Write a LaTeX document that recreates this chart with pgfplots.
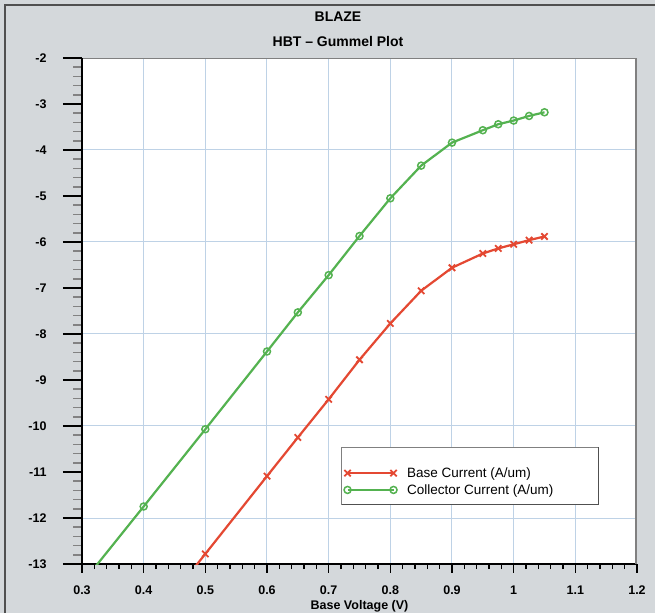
\documentclass[border=0pt]{standalone}
\usepackage{fontspec}
\setmainfont{Liberation Sans}
\usepackage{pgfplots}
\pgfplotsset{compat=1.18}

\definecolor{panel}{RGB}{212,216,219}
\definecolor{framegray}{RGB}{80,80,80}
\definecolor{gridblue}{RGB}{190,210,230}
\definecolor{basered}{RGB}{228,72,50}
\definecolor{collgreen}{RGB}{84,178,80}
\definecolor{minorgray}{RGB}{130,130,130}

\pgfplotsset{
  plotbox/.style={
    at={(82pt,49pt)}, anchor=south west,
    scale only axis, width=555pt, height=506pt,
    xmin=0.3, xmax=1.2, ymin=-13, ymax=-2,
  },
}

\begin{document}
\begin{tikzpicture}[x=1pt,y=1pt]
  % panel background and outer frame
  \fill[panel] (0,0) rectangle (655,613);
  \useasboundingbox (0,0) rectangle (655,613);
  \draw[framegray, line width=1.5pt] (5,0) -- (5,608) -- (655,608);

  % titles
  \node[font=\fontsize{14}{16}\selectfont\bfseries] at (338,596) {BLAZE};
  \node[font=\fontsize{14}{16}\selectfont\bfseries] at (338,571) {HBT -- Gummel Plot};

  \begin{axis}[
    plotbox,
    axis x line*=bottom, axis y line*=left,
    axis line style={-, black, line width=1.5pt},
    axis background/.style={fill=white},
    xtick={0.3,0.4,0.5,0.6,0.7,0.8,0.9,1.0,1.1,1.2},
    xticklabels={0.3,0.4,0.5,0.6,0.7,0.8,0.9,1,1.1,1.2},
    ytick={-13,-12,-11,-10,-9,-8,-7,-6,-5,-4,-3,-2},
    yticklabels={-13,-12,-11,-10,-9,-8,-7,-6,-5,-4,-3,-2},
    minor x tick num=4, minor y tick num=4,
    tick align=outside,
    major tick length=9pt, minor tick length=5pt,
    xmajorgrids=true,
    major grid style={gridblue, line width=1pt},
    extra y ticks={-12,-10,-8,-6,-4},
    extra y tick labels={},
    extra y tick style={grid=major},
    y tick style={draw=none},
    every major tick/.append style={line width=1.5pt},
    every minor tick/.append style={line width=1.5pt},
    x tick style={black},
    ticklabel style={font=\fontsize{12.5}{14}\selectfont\bfseries},
    xticklabel style={yshift=-9pt},
    yticklabel style={xshift=-23pt},
    xlabel={Base Voltage (V)},
    xlabel style={at={(axis description cs:0.5,-0.083)}, anchor=center,
      font=\fontsize{12.5}{14}\selectfont\bfseries},
    clip=true,
    legend style={at={(0.470,0.197)}, anchor=north west, draw=none, fill=none,
      font=\fontsize{13.5}{15}\selectfont, row sep=1.5pt, inner sep=1pt},
    legend cell align=left,
    legend image code/.code={%
      \draw[#1, mark repeat=1] plot coordinates {(0pt,0pt) (46pt,0pt)};},
  ]
    % legend box with a darker lower and right edge
    \draw[gray, line width=1pt, fill=white]
      (rel axis cs:0.468,0.231) rectangle (rel axis cs:0.930,0.117);
    \draw[framegray, line width=1.2pt]
      (rel axis cs:0.468,0.117) -- (rel axis cs:0.930,0.117) -- (rel axis cs:0.930,0.231);

    \addplot[basered, line width=2.2pt, mark=x, mark size=4.5pt,
             mark options={line width=1.8pt}]
      coordinates {
        (0.40,-14.47) (0.50,-12.78) (0.60,-11.09) (0.65,-10.25)
        (0.70,-9.42) (0.75,-8.56) (0.80,-7.77) (0.85,-7.06)
        (0.90,-6.56) (0.95,-6.25) (0.975,-6.14) (1.00,-6.05)
        (1.025,-5.96) (1.05,-5.88)
      };
    \addlegendentry{\hspace*{8pt}Base Current (A/um)}

    \addplot[collgreen, line width=2.2pt, mark=o, mark size=3.5pt,
             mark options={line width=1.5pt, fill=white}]
      coordinates {
        (0.30,-13.42) (0.40,-11.75) (0.50,-10.07) (0.60,-8.38)
        (0.65,-7.53) (0.70,-6.72) (0.75,-5.87) (0.80,-5.05)
        (0.85,-4.34) (0.90,-3.84) (0.95,-3.57) (0.975,-3.44)
        (1.00,-3.36) (1.025,-3.26) (1.05,-3.18)
      };
    \addlegendentry{\hspace*{8pt}Collector Current (A/um)}

    % right and top edges of the plotting box
    \draw[gray, line width=3pt] (rel axis cs:1,0) -- (rel axis cs:1,1);
    \draw[gray, line width=0.8pt] (rel axis cs:0,1) -- (rel axis cs:1,1);
  \end{axis}

  % long outside ticks of the current scale
  \begin{axis}[
    plotbox,
    hide x axis,
    axis y line*=left,
    axis line style={-, black, line width=1.5pt},
    ytick={-13,-12,-11,-10,-9,-8,-7,-6,-5,-4,-3,-2},
    yticklabels={},
    minor y tick num=4,
    tick align=outside,
    major tick length=19pt, minor tick length=9pt,
    every major tick/.append style={black, line width=1.5pt},
    every minor tick/.append style={minorgray, line width=1.5pt},
  ]
  \end{axis}
\end{tikzpicture}
\end{document}
